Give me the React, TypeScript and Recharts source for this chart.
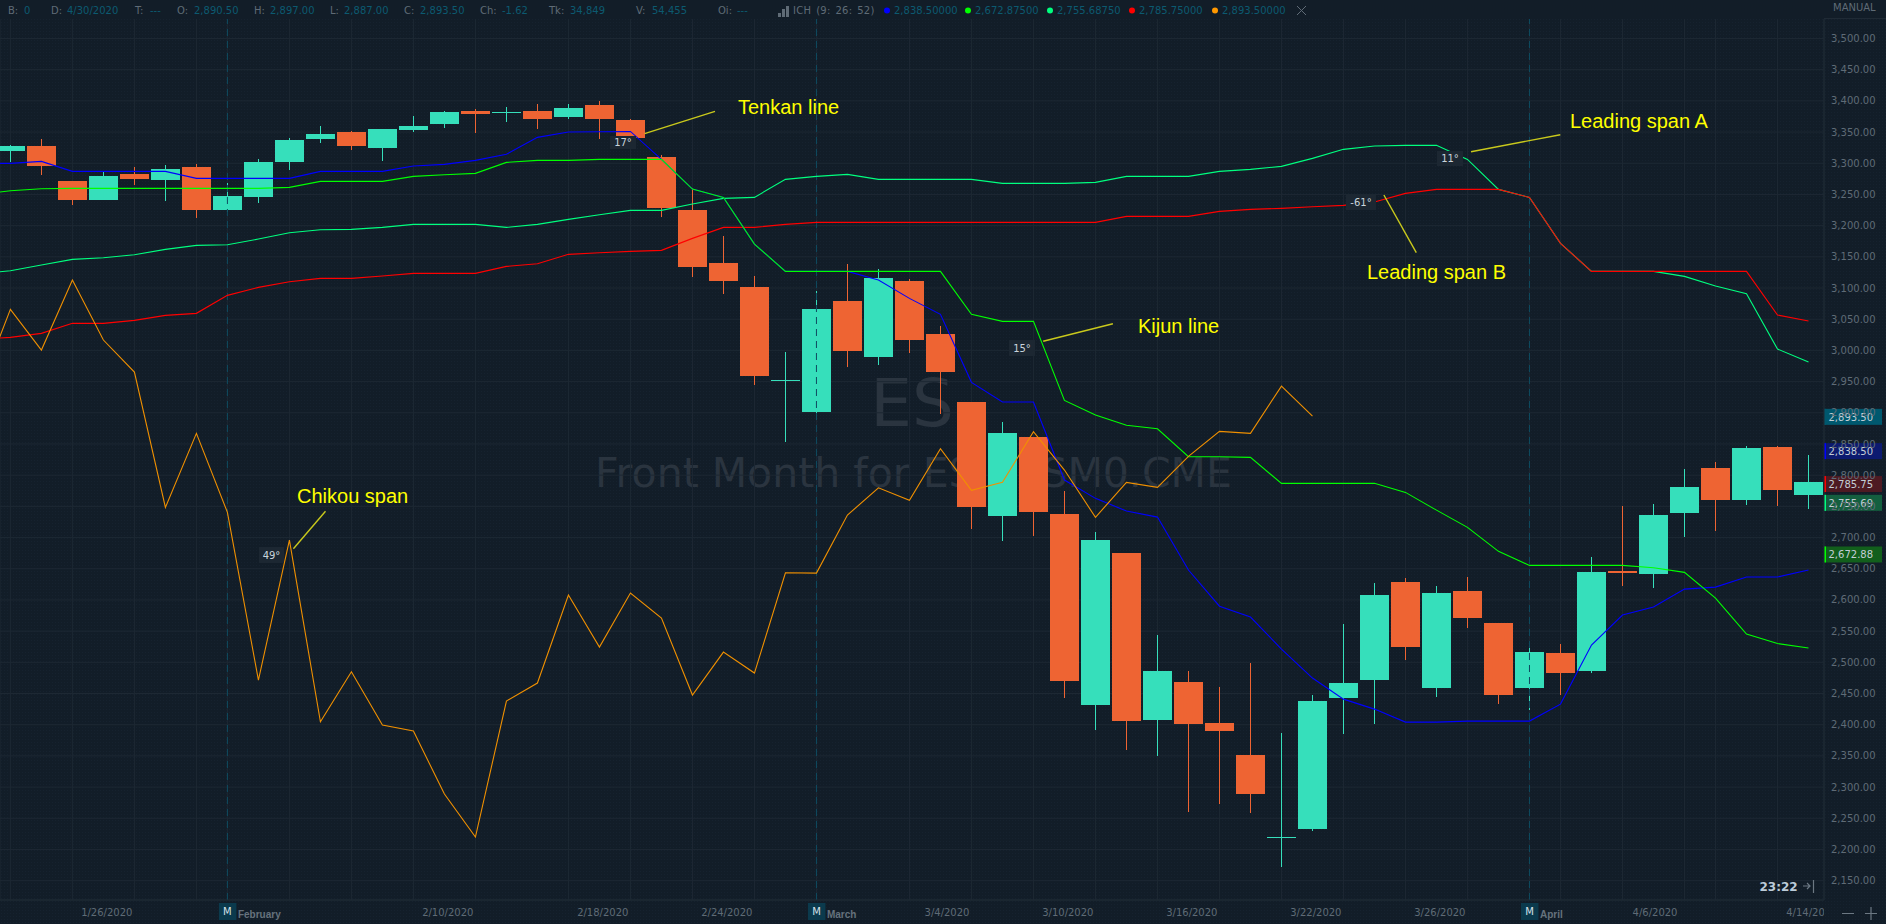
import React from 'react';
import {
  ComposedChart,
  Bar,
  Line,
  XAxis,
  YAxis,
  CartesianGrid,
  ReferenceLine,
} from 'recharts';

// first row of every series is the session just off the left edge
const opens = [
  3318, 3320, 3328, 3271, 3241, 3283, 3273, 3294, 3225, 3246, 3302, 3339, 3350, 3324, 3353, 3363,
  3384, 3380, 3384, 3374, 3393, 3369, 3310, 3225, 3140, 3102, 2951, 2901, 3079, 2989, 3111,
  3026, 2917, 2734, 2861, 2738, 2431, 2675, 2407, 2468, 2403, 2351, 2218, 2233, 2443, 2472,
  2629, 2459, 2614, 2563, 2459, 2515, 2486, 2646, 2642, 2739, 2811, 2760, 2845, 2768,
];
const highs = [
  3335, 3329, 3339, 3271, 3286, 3294, 3297, 3299, 3268, 3307, 3340, 3360, 3352, 3355, 3376, 3384,
  3387, 3390, 3395, 3395, 3400, 3371, 3313, 3260, 3183, 3119, 2997, 3095, 3138, 3130, 3114,
  3039, 2917, 2885, 2861, 2774, 2709, 2675, 2544, 2486, 2460, 2499, 2387, 2447, 2561, 2627,
  2635, 2622, 2637, 2563, 2526, 2529, 2669, 2750, 2754, 2810, 2821, 2847, 2847, 2832,
];
const lows = [
  3305, 3302, 3281, 3233, 3241, 3265, 3239, 3212, 3222, 3236, 3289, 3332, 3321, 3303, 3350, 3356,
  3348, 3366, 3355, 3371, 3339, 3328, 3214, 3118, 3090, 2944, 2853, 2888, 2973, 2976, 2996,
  2898, 2714, 2694, 2702, 2443, 2391, 2359, 2350, 2260, 2273, 2258, 2172, 2230, 2385, 2401,
  2504, 2444, 2555, 2433, 2423, 2447, 2483, 2622, 2619, 2701, 2710, 2752, 2750, 2746,
];
const closes = [
  3322, 3328, 3296, 3241, 3279, 3275, 3291, 3225, 3247, 3302, 3337, 3347, 3328, 3355, 3360, 3382,
  3379, 3382, 3371, 3388, 3371, 3340, 3228, 3134, 3111, 2959, 2952, 3066, 2999, 3116, 3017,
  2965, 2749, 2867, 2741, 2470, 2696, 2406, 2486, 2401, 2390, 2289, 2220, 2438, 2467, 2608,
  2524, 2611, 2571, 2447, 2516, 2483, 2645, 2643, 2736, 2781, 2760, 2843, 2776, 2789,
];

const tenkan = [
  3300, 3299.8, 3303, 3287, 3287, 3287, 3287, 3275.8, 3275.8, 3275.8, 3275.8, 3287, 3287, 3287,
  3295.5, 3298.2, 3304.6, 3314.3, 3341.5, 3350, 3350.5, 3351, 3306.2, 3258.6, 3245.3, 3170.5,
  3126.7, 3126.7, 3126.7, 3112.8, 3083.4, 3057.8, 2948.8, 2917.2, 2917.2, 2792.2, 2762.8, 2742.5,
  2732.8, 2648, 2590, 2572.5, 2521.3, 2474.8, 2441, 2425, 2404.2, 2404.2, 2405.8, 2405.8, 2405.8,
  2433, 2527.7, 2575.8, 2588.6, 2617.4, 2620.6, 2636.7, 2636.7, 2648,
];
const kijun = [
  3249.7, 3255.9, 3259.1, 3259.7, 3259.7, 3259.7, 3259.7, 3259.7, 3259.7, 3259.7, 3261.4, 3271,
  3271, 3271, 3279, 3281.6, 3283.8, 3301.4, 3304.6, 3304.6, 3306.2, 3306.2, 3306.2, 3258.6,
  3245.3, 3170.5, 3126.7, 3126.7, 3126.7, 3126.7, 3126.7, 3126.7, 3057.8, 3046.6, 3046.6, 2919.9,
  2896.4, 2879.9, 2874.4, 2829.5, 2829.5, 2828.5, 2786.9, 2786.9, 2786.9, 2786.9, 2772.4, 2744,
  2716.3, 2677.9, 2655.4, 2655.4, 2655.4, 2655.4, 2651.6, 2644.2, 2603, 2545.3, 2530.1, 2522.9,
];
const spanA = [
  3122.9, 3127.7, 3136.8, 3145.9, 3148.5, 3153.3, 3162, 3168.4, 3169.4, 3178.5, 3188.6, 3193.4,
  3194, 3197.2, 3202, 3202, 3202, 3197.2, 3202, 3210, 3217.4, 3224.5, 3224.5, 3234.6, 3243.7,
  3245.3, 3274.2, 3279, 3282.2, 3274.2, 3274.2, 3274.2, 3274.2, 3267.8, 3267.8, 3267.8, 3269.4,
  3279, 3279, 3279, 3287, 3290.2, 3295, 3307.8, 3322.3, 3327.6, 3328.7, 3328.7, 3306.2, 3258.1,
  3245.3, 3171.6, 3126.7, 3126.7, 3126.7, 3118.7, 3103.1, 3090.8, 3002.2, 2981.3,
];
const spanB = [
  3017.6, 3020.9, 3027.3, 3043.4, 3043.4, 3048.2, 3056.2, 3059.4, 3088.2, 3101, 3110, 3115.5,
  3115.5, 3119.2, 3123.5, 3123.5, 3123.5, 3134.7, 3138.9, 3154, 3156.5, 3158.8, 3160.4, 3179.6,
  3197.2, 3197.2, 3202, 3205.3, 3205.3, 3205.3, 3205.3, 3205.3, 3205.3, 3205.3, 3205.3, 3205.3,
  3205.3, 3214.9, 3214.9, 3214.9, 3222.9, 3226.1, 3227.7, 3230.3, 3232.5, 3237.8, 3251.7, 3258.1,
  3258.1, 3258.1, 3245.3, 3171.6, 3126.7, 3126.7, 3126.7, 3126.7, 3126.7, 3126.7, 3056.7, 3047,
];
const chikou = [
  2937.2, 3065.8, 3000.5, 3112.8, 3016.6, 2965.3, 2748.4, 2867, 2740.4, 2471.6, 2696, 2404.7,
  2484.9, 2399.4, 2389.8, 2288.8, 2219.9, 2437.9, 2466.8, 2607.8, 2524.5, 2611, 2570.9, 2447.5,
  2516.4, 2482.8, 2643.5, 2643, 2736, 2779.8, 2759.6, 2842.3, 2775.6, 2788.5, 2869.6, 2808.2,
  2732.4, 2788.5, 2780.4, 2830.1, 2870.2, 2867, 2942.8, 2894.8,
  null, null, null, null, null, null, null, null, null, null, null, null, null, null, null, null,
];

const priceTicks = [
  2150, 2200, 2250, 2300, 2350, 2400, 2450, 2500, 2550, 2600, 2650, 2700, 2750, 2800, 2850, 2900,
  2950, 3000, 3050, 3100, 3150, 3200, 3250, 3300, 3350, 3400, 3450, 3500,
];
const gridSessions = [
  0, 2, 4, 6, 9, 11, 13, 15, 18, 20, 22, 24, 29, 31, 33, 35, 37, 39, 41, 43, 45, 47, 50, 52, 54, 55, 57,
];
const monthSessions = [7, 26, 49];
const monthNames = ['February', 'March', 'April'];
const dateSessions = [4, 15, 20, 24, 31, 35, 39, 43, 47, 54, 57];
const dateLabels = [
  '1/26/2020', '2/10/2020', '2/18/2020', '2/24/2020', '3/4/2020', '3/10/2020', '3/16/2020',
  '3/22/2020', '3/26/2020', '4/6/2020', '4/14/2020',
];
const dateShift = [-2, -2, -2, -2, -2, -2, -2, -2, -2, -7, 60];

const tagValues = [2893.5, 2838.5, 2785.75, 2755.69, 2672.88];
const tagFills = ['#00586e', '#0c1a70', '#4e1a22', '#145f3f', '#125f1c'];
const tagBars = ['#00586e', '#0000ff', '#ff0000', '#00ff7f', '#00ff00'];

const headerLabels = ['B:', 'D:', 'T:', 'O:', 'H:', 'L:', 'C:', 'Ch:', 'Tk:', 'V:', 'Oi:'];
const headerValues = ['0', '4/30/2020', '---', '2,890.50', '2,897.00', '2,887.00', '2,893.50', '-1.62', '34,849', '54,455', '---'];
const headerLabelX = [8, 51, 135, 177, 254, 330, 404, 480, 549, 636, 718];
const headerValueX = [24, 67, 150, 194, 270, 344, 420, 502, 570, 652, 737];
const ichValues = ['2,838.50000', '2,672.87500', '2,755.68750', '2,785.75000', '2,893.50000'];
const ichColors = ['#0000ff', '#00ff00', '#00ff7f', '#ff0000', '#ff9800'];
const ichDotX = [887, 968, 1050, 1132, 1215];

const callouts = [
  { text: 'Tenkan line', x: 738, y: 114, from: [644.6, 133.7], to: [715, 111.3] },
  { text: 'Leading span A', x: 1570, y: 128, from: [1471, 151.7], to: [1560.3, 134.7] },
  { text: 'Leading span B', x: 1367, y: 279, from: [1383.9, 195], to: [1416.3, 252.7] },
  { text: 'Kijun line', x: 1138, y: 333, from: [1043.2, 341.3], to: [1112.9, 323.7] },
  { text: 'Chikou span', x: 297, y: 503, from: [325.5, 511.3], to: [293.4, 548.7] },
];
const angleBadges = [
  { text: '17°', x: 610, y: 136, w: 26, h: 13 },
  { text: '11°', x: 1437, y: 151, w: 26, h: 15 },
  { text: '-61°', x: 1346, y: 194, w: 30, h: 16 },
  { text: '15°', x: 1009, y: 340, w: 26, h: 16 },
  { text: '49°', x: 259, y: 547, w: 25, h: 16 },
];

const rows = opens.map((open, i) => ({
  session: i - 1,
  open,
  close: closes[i],
  range: [lows[i], highs[i]],
  tenkan: tenkan[i],
  kijun: kijun[i],
  spanA: spanA[i],
  spanB: spanB[i],
  chikou: chikou[i],
}));

const UP = '#36dfbb';
const DOWN = '#ee6433';
const BG = '#121d28';
const FONT = '"DejaVu Sans", sans-serif';

function Candle(props: any) {
  const { x, y, width, height, payload } = props;
  const color = payload.close >= payload.open ? UP : DOWN;
  const [low, high] = payload.range;
  const perPoint = height / (high - low);
  const top = y + (high - Math.max(payload.open, payload.close)) * perPoint;
  const bottom = y + (high - Math.min(payload.open, payload.close)) * perPoint;
  const mid = x + width / 2;
  return (
    <g shapeRendering="crispEdges">
      <rect x={mid - 0.5} y={y} width={1} height={height} fill={color} />
      <rect x={x} y={top} width={width} height={Math.max(bottom - top, 1)} fill={color} />
    </g>
  );
}

function SessionTick(props: any) {
  const { x, y, payload } = props;
  const month = monthSessions.indexOf(payload.value);
  const date = dateSessions.indexOf(payload.value);
  return (
    <g>
      {date >= 0 && (
        <text
          x={x + dateShift[date]}
          y={y + 14}
          textAnchor="end"
          fontSize={10}
          fontFamily={FONT}
          fill="#5f6b76"
          clipPath="url(#dateClip)"
        >
          {dateLabels[date]}
        </text>
      )}
      {month >= 0 && (
        <g>
          <rect x={x - 8.5} y={y + 1} width={17.5} height={17} fill="#0b3a4d" />
          <text x={x} y={y + 13} textAnchor="middle" fontSize={10} fontFamily={FONT} fill="#d5e2ea">
            M
          </text>
          <text
            x={x + 10.5}
            y={y + 16}
            fontSize={10}
            fontWeight="bold"
            fontFamily='"Liberation Sans", sans-serif'
            fill="#66727d"
          >
            {monthNames[month]}
          </text>
        </g>
      )}
    </g>
  );
}

function PriceTag(props: any) {
  const { viewBox, index } = props;
  const cy = viewBox.y;
  return (
    <g>
      <rect x={1824} y={cy - 8} width={58} height={16} fill={tagFills[index]} />
      <rect x={1824} y={cy - 8} width={2} height={16} fill={tagBars[index]} />
      <text x={1828.5} y={cy + 4} fontSize={10} fontFamily={FONT} fill="#c3ced6">
        {tagValues[index].toLocaleString('en-US', { minimumFractionDigits: 2 })}
      </text>
    </g>
  );
}

export default function App() {
  return (
    <div style={{ position: 'relative', width: 1886, height: 924, overflow: 'hidden', background: BG }}>
      <style>{`body{margin:0;background:${BG}}`}</style>

      <svg width={1886} height={924} style={{ position: 'absolute', left: 0, top: 0 }}>
        <defs>
          <pattern id="dither" width={3} height={3} patternUnits="userSpaceOnUse">
            <rect width={3} height={3} fill={BG} />
            <rect width={1} height={1} x={1} y={1} fill="#16222f" />
          </pattern>
        </defs>
        <rect width={1886} height={924} fill="url(#dither)" />
        <text x={912} y={426} textAnchor="middle" fontSize={66} fontFamily={FONT} fill="#2a343f">
          ES
        </text>
        <text x={595} y={487} fontSize={41} fontFamily={FONT} fill="#2a343f">
          Front Month for ES - ESM0.CME
        </text>
      </svg>

      <div style={{ position: 'absolute', left: 0, top: 0 }}>
        <ComposedChart width={1886} height={924} data={rows} margin={{ top: 0, right: 0, bottom: 0, left: 0 }}>
          <defs>
            <clipPath id="dateClip">
              <rect x={0} y={895} width={1824} height={29} />
            </clipPath>
          </defs>
          <CartesianGrid stroke="#1d2833" strokeWidth={1} />
          <XAxis
            dataKey="session"
            ticks={[...gridSessions, ...monthSessions].sort((a, b) => a - b)}
            interval={0}
            padding={{ left: -36.1, right: 0 }}
            height={24}
            tickSize={0}
            tick={<SessionTick />}
            stroke="#1f2a35"
          />
          <YAxis
            orientation="right"
            width={62}
            domain={[2119, 3561.7]}
            allowDataOverflow
            ticks={priceTicks}
            interval={0}
            tickSize={0}
            tickMargin={7}
            tickFormatter={(v: number) => v.toLocaleString('en-US', { minimumFractionDigits: 2 })}
            tick={{ fontSize: 10, fontFamily: FONT, fill: '#5f6b76' }}
            stroke="#1f2a35"
          />
          {monthSessions.map((s) => (
            <ReferenceLine key={s} x={s} stroke="#0e4b60" strokeDasharray="7 5" />
          ))}
          <Bar dataKey="range" barSize={29} shape={<Candle />} isAnimationActive={false} />
          <Line dataKey="spanA" stroke="#00ff7f" strokeWidth={1.1} dot={false} activeDot={false} isAnimationActive={false} />
          <Line dataKey="spanB" stroke="#ff0000" strokeWidth={1.1} dot={false} activeDot={false} isAnimationActive={false} />
          <Line dataKey="tenkan" stroke="#0000ff" strokeWidth={1.1} dot={false} activeDot={false} isAnimationActive={false} />
          <Line dataKey="kijun" stroke="#00ff00" strokeWidth={1.1} dot={false} activeDot={false} isAnimationActive={false} />
          <Line dataKey="chikou" stroke="#f09000" strokeWidth={1.1} dot={false} activeDot={false} isAnimationActive={false} />
          {tagValues.map((v, i) => (
            <ReferenceLine
              key={v}
              y={v}
              stroke="none"
              isFront
              label={(p: any) => <PriceTag {...p} index={i} />}
            />
          ))}
        </ComposedChart>
      </div>

      <svg width={1886} height={924} style={{ position: 'absolute', left: 0, top: 0 }} fontFamily={FONT}>
        <rect x={0} y={0} width={1886} height={19} fill={BG} />
        {headerLabels.map((t, i) => (
          <text key={t} x={headerLabelX[i]} y={14} fontSize={10} fill="#5f6b76">
            {t}
          </text>
        ))}
        {headerValues.map((t, i) => (
          <text key={i} x={headerValueX[i]} y={14} fontSize={10} fill="#0c5a70">
            {t}
          </text>
        ))}
        <g fill="#5f6b76">
          <rect x={778} y={13} width={3} height={4} />
          <rect x={782} y={9} width={3} height={8} />
          <rect x={786} y={6} width={3} height={11} />
        </g>
        <text x={793} y={14} fontSize={10} letterSpacing={0.25} wordSpacing={1.5} fill="#5f6b76">
          ICH (9: 26: 52)
        </text>
        {ichValues.map((t, i) => (
          <g key={t}>
            <circle cx={ichDotX[i]} cy={10.5} r={3} fill={ichColors[i]} />
            <text x={ichDotX[i] + 7} y={14} fontSize={10} fill="#0c5a70">
              {t}
            </text>
          </g>
        ))}
        <path d="M1297 6 L1306 15 M1306 6 L1297 15" stroke="#5f6b76" strokeWidth={1} />
        <text x={1833} y={11} fontSize={10} fill="#5f6b76">
          MANUAL
        </text>
        <line x1={1824} y1={18.5} x2={1886} y2={18.5} stroke="#1f2a35" />

        {angleBadges.map((b) => (
          <g key={b.text}>
            <rect x={b.x} y={b.y} width={b.w} height={b.h} fill="#1c2732" />
            <text x={b.x + b.w / 2} y={b.y + b.h / 2 + 3.5} textAnchor="middle" fontSize={10} fill="#c9d4dc">
              {b.text}
            </text>
          </g>
        ))}
        {callouts.map((c) => (
          <g key={c.text}>
            <line x1={c.from[0]} y1={c.from[1]} x2={c.to[0]} y2={c.to[1]} stroke="#c9c91c" strokeWidth={1.4} />
            <text x={c.x} y={c.y} fontSize={20} fontFamily='"Liberation Sans", sans-serif' fill="#ffff00">
              {c.text}
            </text>
          </g>
        ))}

        <text x={1759.5} y={891} fontSize={12} fontWeight="bold" fill="#bccbd8">
          23:22
        </text>
        <path d="M1803 886 L1810 886 M1807 883 L1810 886 L1807 889 M1813.5 880 L1813.5 893" stroke="#6c7883" strokeWidth={1.2} fill="none" />
        <path d="M1842 913.5 L1854 913.5 M1865 913.5 L1877 913.5 M1871 907 L1871 920" stroke="#6c7883" strokeWidth={1.2} fill="none" />
      </svg>
    </div>
  );
}
